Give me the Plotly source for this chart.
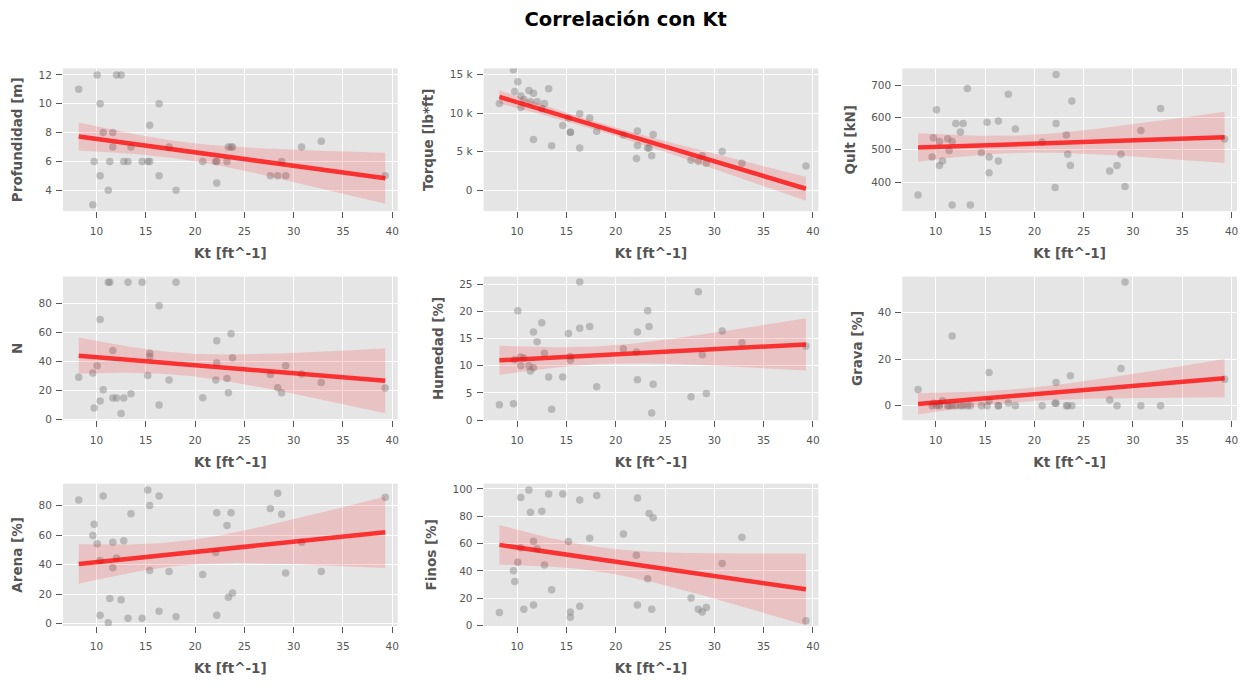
import numpy as np
import plotly.graph_objects as go

# ---------------- data ----------------
kt = [8.2, 9.63, 9.76, 10.07, 10.37, 10.37, 10.68, 11.2, 11.35, 11.66,
      11.66, 12.03, 12.5, 12.77, 13.2, 13.5, 14.63, 15.2, 15.4, 15.4,
      16.35, 16.35, 17.36, 18.07, 20.78, 22.1, 22.2, 22.2, 23.24, 23.38,
      23.65, 23.8, 27.64, 28.38, 28.78, 29.19, 30.8, 32.8, 39.29]

profundidad = [11, 3, 6, 12, 10, 5, 8, 4, 6, 8,
               7, 12, 12, 6, 6, 7, 6, 6, 8.5, 6,
               10, 5, 7, 4, 6, 6, 6, 4.5, 6, 7,
               7, 7, 5, 5, 6, 5, 7, 7.4, 5]

torque = [11230, 15580, 12780, 14030, 12200, 10700, 11760, 12900, 11450, 12560,
          6570, 11450, 10560, 11230, 13140, 5770, 8390, 9370, 7500, 7500,
          9900, 5460, 9370, 7630, 7150, 4130, 5810, 7680, 5460, 5460,
          4480, 7230, 3900, 3770, 4480, 3500, 5020, 3500, 3150]

qult = [360, 478, 537, 624, 526, 451, 465, 534, 498, 526,
        329, 581, 555, 581, 690, 329, 491, 585, 478, 429,
        465, 589, 672, 564, 524, 383, 733, 581, 546, 486,
        451, 651, 434, 451, 486, 386, 560, 628, 533]

n_spt = [29, 32, 7.8, 37, 69, 12.6, 20.3, 94.9, 94.9, 47.5,
         14.6, 14.6, 3.9, 14.6, 94.9, 17.6, 94.9, 30.2, 45.7, 43.4,
         78.6, 9.8, 27.2, 94.9, 14.9, 27.2, 54.4, 38.9, 28.1, 18.3,
         59.2, 42.5, 30.9, 21.7, 18.3, 37, 31.3, 25.4, 21.5]

humedad = [2.8, 3.0, 11.1, 20.1, 10.0, 11.6, 11.4, 10.0, 9.0, 16.2,
           9.6, 14.4, 17.9, 12.3, 7.9, 2.0, 7.9, 15.9, 11.0, 11.7,
           25.4, 16.9, 17.2, 6.1, 13.1, 12.5, 16.2, 7.4, 20.1, 17.2,
           1.3, 6.6, 4.3, 23.6, 12.0, 4.9, 16.4, 14.2, 13.6]

grava = [6.95, 0, 1, 0, 0, 0.7, 2.1, 0, 0, 29.9,
         0, 0, 0, 0, 0, 0, 0, 0, 14.2, 2.1,
         0, 0, 1.1, 0, 0, 1, 10, 1, 0, 0,
         12.9, 0, 2.4, 0, 16, 53.2, 0, 0, 11.3]

arena = [83.8, 59.8, 67.4, 54.2, 5.8, 42.9, 86.5, 0.7, 17.1, 55.1,
         38, 44.5, 16.2, 56.2, 3.8, 74.4, 3.8, 90.6, 80, 36,
         86.5, 8.5, 35.3, 4.7, 33.3, 48.3, 75.1, 5.8, 66.5, 18,
         75.1, 20.9, 78, 88.3, 74.2, 34.4, 55.1, 35.3, 85.6]

finos = [9.6, 40.2, 32.3, 46.4, 93.8, 56.9, 12, 99.3, 83, 61.7,
         15.1, 56.2, 83.7, 44.3, 96.2, 26.3, 96.2, 61.5, 10, 6,
         91.9, 14.1, 63.9, 95.2, 67, 51.4, 93.3, 15.1, 34.2, 82.1,
         12, 78.9, 20.1, 12, 10, 13.2, 45.5, 64.6, 3.6]

y_labels = ["Profundidad [m]", "Torque [lb*ft]", "Qult [kN]", "N",
            "Humedad [%]", "Grava [%]", "Arena [%]", "Finos [%]"]
x_label = "Kt [ft^-1]"
title_text = "Correlación con Kt"

x_ticks = [10, 15, 20, 25, 30, 35, 40]
y_ticks = [[4, 6, 8, 10, 12],
           [0, 5000, 10000, 15000],
           [400, 500, 600, 700],
           [0, 20, 40, 60, 80],
           [0, 5, 10, 15, 20, 25],
           [0, 20, 40],
           [0, 20, 40, 60, 80],
           [0, 20, 40, 60, 80, 100]]
y_tick_text = [None, ["0", "5 k", "10 k", "15 k"], None, None, None, None, None, None]

series = [profundidad, torque, qult, n_spt, humedad, grava, arena, finos]

# ---------------- layout geometry ----------------
W, H = 1244, 685
col_px = [(63, 398), (484, 819), (903, 1238)]
row_px = [(68, 212), (278, 423), (487, 630.5)]
y_ranges = [[2.55, 12.45], [-2690, 15770], [310, 752], [-0.8, 98.8],
            [-0.05, 26.4], [-6.3, 55.5], [-1.5, 94.8], [-0.3, 103.8]]
x_range = [6.6, 40.55]

RED_LINE = "rgba(255,0,0,0.75)"
RED_BAND = "rgba(255,0,0,0.15)"
POINT = "rgba(128,128,128,0.45)"
TXT = "#555555"
FONT = "DejaVu Sans"
T_CRIT = 1.75   # width of the confidence band around the fit


def regression(x, y):
    x = np.asarray(x, float)
    y = np.asarray(y, float)
    n = len(x)
    b, a = np.polyfit(x, y, 1)
    xs = np.linspace(x.min(), x.max(), 100)
    yhat = a + b * xs
    resid = y - (a + b * x)
    s = np.sqrt(np.sum(resid ** 2) / (n - 2))
    se = s * np.sqrt(1.0 / n + (xs - x.mean()) ** 2 / np.sum((x - x.mean()) ** 2))
    return xs, yhat, yhat - T_CRIT * se, yhat + T_CRIT * se


fig = go.Figure()
layout = {}
for i, ys in enumerate(series):
    r, c = divmod(i, 3)
    sfx = "" if i == 0 else str(i + 1)
    xa, ya = "x" + sfx, "y" + sfx
    fig.add_trace(go.Scatter(x=kt, y=ys, mode="markers", xaxis=xa, yaxis=ya,
                             marker=dict(color=POINT, size=7.5, line=dict(width=0)),
                             showlegend=False, hoverinfo="x+y"))
    xs, yhat, lo, hi = regression(kt, ys)
    fig.add_trace(go.Scatter(x=np.concatenate([xs, xs[::-1]]),
                             y=np.concatenate([hi, lo[::-1]]),
                             fill="toself", fillcolor=RED_BAND, mode="lines",
                             line=dict(width=0), xaxis=xa, yaxis=ya,
                             showlegend=False, hoverinfo="skip"))
    fig.add_trace(go.Scatter(x=xs, y=yhat, mode="lines", xaxis=xa, yaxis=ya,
                             line=dict(color=RED_LINE, width=4.5),
                             showlegend=False, hoverinfo="skip"))

    x0, x1 = col_px[c]
    y0, y1 = row_px[r]
    common = dict(showgrid=True, gridcolor="white", gridwidth=1.2, zeroline=False,
                  showline=False, ticks="outside", ticklen=6, tickwidth=1,
                  tickcolor=TXT, tickfont=dict(family=FONT, size=10.5, color=TXT))
    layout["xaxis" + sfx] = dict(domain=[x0 / W, x1 / W], anchor=ya, range=x_range,
                                 tickvals=x_ticks, ticklabelstandoff=4,
                                 title=dict(text="<b>" + x_label + "</b>", standoff=12,
                                            font=dict(family=FONT, size=13.5, color=TXT)),
                                 **common)
    yd = dict(domain=[1 - y1 / H, 1 - y0 / H], anchor=xa, range=y_ranges[i],
              tickvals=y_ticks[i], ticklabelstandoff=2,
              title=dict(text="<b>" + y_labels[i] + "</b>", standoff=12,
                         font=dict(family=FONT, size=13.5, color=TXT)),
              **common)
    if y_tick_text[i] is not None:
        yd["ticktext"] = y_tick_text[i]
    layout["yaxis" + sfx] = yd

fig.update_layout(
    width=W, height=H,
    margin=dict(l=0, r=0, t=0, b=0),
    paper_bgcolor="white", plot_bgcolor="#E5E5E5",
    title=dict(text="<b>" + title_text + "</b>", x=0.503, xanchor="center",
               y=1 - 19 / H, yanchor="middle",
               font=dict(family=FONT, size=19.5, color="black")),
    font=dict(family=FONT),
    **layout,
)

fig.write_html("out.html", config={"displayModeBar": False})

# remove the default page margin so the figure sits at the window origin
with open("out.html", "r", encoding="utf-8") as f:
    html = f.read()
html = html.replace("<body>", '<body style="margin:0;padding:0;overflow:hidden">', 1)
with open("out.html", "w", encoding="utf-8") as f:
    f.write(html)
